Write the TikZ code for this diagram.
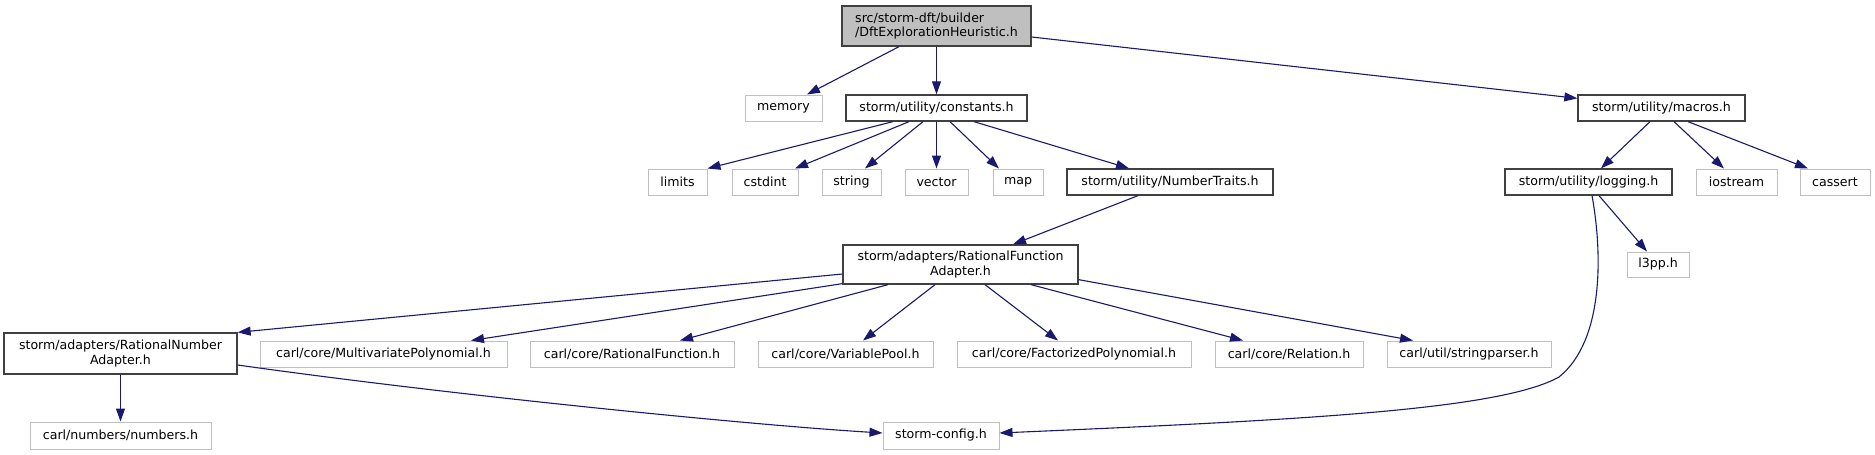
\documentclass[tikz,border=0pt]{standalone}
\usepackage{fontspec}
\setmainfont{DejaVu Sans}
\usetikzlibrary{arrows.meta,calc}

\definecolor{edgeblue}{RGB}{25,25,112}
\definecolor{boxgray}{RGB}{191,191,191}
\definecolor{boxdark}{RGB}{64,64,64}

\begin{document}
\begin{tikzpicture}[
    x=1pt, y=-1pt,
    font=\fontsize{12.6}{14.3}\selectfont,
    >={Triangle[length=13pt,width=9pt]},
    box/.style={
        rectangle,
        inner sep=0pt,
        minimum height=26pt,
        align=center,
        fill=white
    },
    docnode/.style={box, draw=boxdark, line width=1.3pt},
    extnode/.style={box, draw=boxgray, line width=1pt},
    mainnode/.style={box, draw=boxdark, fill=boxgray, line width=1.3pt, minimum height=40pt, align=left},
    dep/.style={->, line width=1.1pt, draw=edgeblue}
]

\fill[white] (0,0) rectangle (1875,455);
\useasboundingbox (0,0) rectangle (1875,455);

\node[mainnode, minimum width=189pt] (main) at (936.5,26) {src/storm-dft/builder\\/DftExplorationHeuristic.h};

\node[extnode, minimum width=77pt] (memory) at (783.5,108) {memory};
\node[docnode, minimum width=181pt] (constants) at (936.5,108) {storm/utility/constants.h};
\node[docnode, minimum width=167pt] (macros) at (1661.5,108) {storm/utility/macros.h};

\node[extnode, minimum width=59pt] (limits) at (677.5,182) {limits};
\node[extnode, minimum width=66pt] (cstdint) at (765,182) {cstdint};
\node[extnode, minimum width=59pt] (string) at (851.5,182) {string};
\node[extnode, minimum width=63pt] (vector) at (936.5,182) {vector};
\node[extnode, minimum width=50pt] (map) at (1018,182) {map};
\node[docnode, minimum width=206pt] (numtraits) at (1170,182) {storm/utility/NumberTraits.h};
\node[docnode, minimum width=167pt] (logging) at (1588.5,182) {storm/utility/logging.h};
\node[extnode, minimum width=81pt] (iostream) at (1736.5,182) {iostream};
\node[extnode, minimum width=70pt] (cassert) at (1835,182) {cassert};

\node[extnode, minimum width=62pt, minimum height=25pt] (l3pp) at (1658,264.5) {l3pp.h};
\node[docnode, minimum width=235pt, minimum height=39pt] (rfa) at (960.5,264.5) {storm/adapters/RationalFunction\\Adapter.h};

\node[docnode, minimum width=233pt, minimum height=41pt] (rna) at (120.5,353.5) {storm/adapters/RationalNumber\\Adapter.h};
\node[extnode, minimum width=247pt] (multivar) at (383.5,354) {carl/core/MultivariatePolynomial.h};
\node[extnode, minimum width=204pt] (ratfunc) at (632,354) {carl/core/RationalFunction.h};
\node[extnode, minimum width=175pt] (varpool) at (845.5,354) {carl/core/VariablePool.h};
\node[extnode, minimum width=234pt] (factpoly) at (1074,354) {carl/core/FactorizedPolynomial.h};
\node[extnode, minimum width=148pt] (relation) at (1289,354) {carl/core/Relation.h};
\node[extnode, minimum width=164pt] (strparser) at (1469,354) {carl/util/stringparser.h};

\node[extnode, minimum width=181pt, minimum height=27pt] (numbers) at (120.5,435.5) {carl/numbers/numbers.h};
\node[extnode, minimum width=116pt, minimum height=27pt] (config) at (941,435.5) {storm-config.h};

\draw[dep] ($(main.south)+(-37.5,0)$) -- ($(memory.north)+(23.5,0)$);
\draw[dep] (main.south) -- (constants.north);
\draw[dep] ($(main.east)+(0,11)$) -- ($(macros.north west)+(0,4)$);

\draw[dep] ($(constants.south)+(-43.5,0)$) -- (limits.north east);
\draw[dep] ($(constants.south)+(-27.5,0)$) -- ($(cstdint.north)+(30,0)$);
\draw[dep] ($(constants.south)+(-13.5,0)$) -- ($(string.north)+(13.5,0)$);
\draw[dep] (constants.south) -- (vector.north);
\draw[dep] ($(constants.south)+(13.5,0)$) -- ($(map.north)+(-19,0)$);
\draw[dep] ($(constants.south)+(37.5,0)$) -- ($(numtraits.north)+(-41,0)$);
\draw[dep] ($(numtraits.south)+(-32,0)$) -- ($(rfa.north)+(52.5,0)$);

\draw[dep] ($(macros.south)+(-11.5,0)$) -- ($(logging.north)+(12.5,0)$);
\draw[dep] ($(macros.south)+(12.5,0)$) -- ($(iostream.north)+(-12.5,0)$);
\draw[dep] ($(macros.south)+(26.5,0)$) -- ($(cassert.north)+(-27,0)$);
\draw[dep] ($(logging.south)+(10.5,0)$) -- ($(l3pp.north)+(-11,0)$);
\draw[dep] ($(logging.south)+(3.5,0)$) .. controls (1602,250) and (1605,340) .. (1559,377)
    .. controls (1500,410) and (1300,420) .. ($(config.east)+(0,-2.5)$);

\draw[dep] ($(rfa.west)+(0,9.5)$) -- (rna.north east);
\draw[dep] ($(rfa.south west)+(0,-1)$) -- ($(multivar.north)+(87.5,0)$);
\draw[dep] ($(rfa.south)+(-72.5,0)$) -- ($(ratfunc.north)+(48,0)$);
\draw[dep] ($(rfa.south)+(-25.5,0)$) -- ($(varpool.north)+(17.5,0)$);
\draw[dep] ($(rfa.south)+(24.5,0)$) -- ($(factpoly.north)+(-16,0)$);
\draw[dep] ($(rfa.south)+(70.5,0)$) -- ($(relation.north)+(-46,0)$);
\draw[dep] ($(rfa.south east)+(0,-5)$) -- ($(strparser.north)+(-56,0)$);

\draw[dep] (rna.south) -- (numbers.north);
\draw[dep] ($(rna.east)+(0,11.5)$) .. controls (450,395) and (750,425) .. ($(config.west)+(0,-2.5)$);

\end{tikzpicture}
\end{document}
